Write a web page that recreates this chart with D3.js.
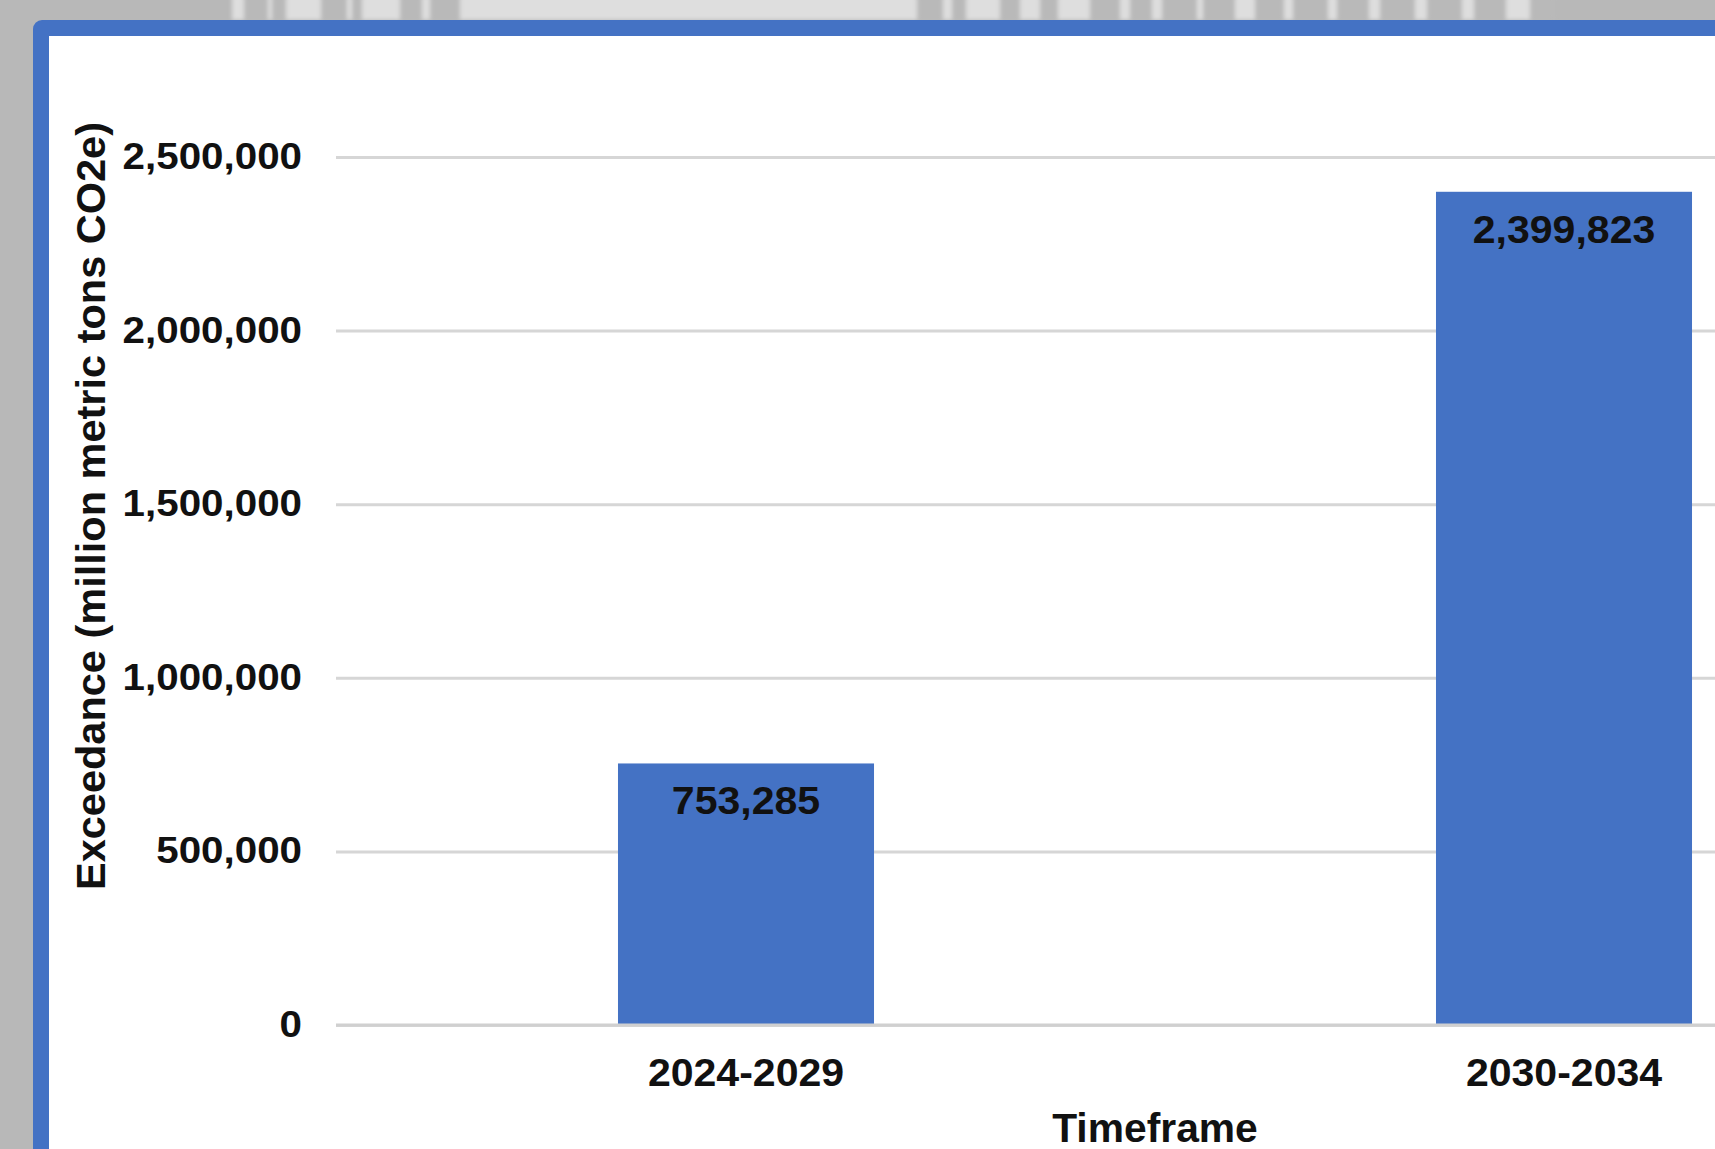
<!DOCTYPE html>
<html>
<head>
<meta charset="utf-8">
<script src="https://cdn.jsdelivr.net/npm/d3@7"></script>
<style>
  html, body { margin: 0; padding: 0; background: #b8b8b8; overflow: hidden; }
  text { font-family: "Liberation Sans", Arial, Helvetica, sans-serif; font-weight: bold; fill: #111; }
</style>
</head>
<body>
<div id="chart"></div>
<script>
// values
var categories = ["2024-2029", "2030-2034"];
var values = [753285, 2399823];
var yTicks = [0, 500000, 1000000, 1500000, 2000000, 2500000];
var yTitle = "Exceedance (million metric tons CO2e)";
var xTitle = "Timeframe";

// blurry strip above the frame (x, width) - just decoration
var stripBlocks = [[244, 24], [272, 14], [321, 26], [352, 10], [400, 22], [430, 30],
  [917, 26], [952, 14], [1000, 20], [1040, 18], [1090, 30], [1130, 22], [1162, 35],
  [1203, 32], [1255, 29], [1293, 35], [1337, 32], [1380, 35], [1427, 35], [1474, 32], [1530, 25]];

(function(){
  var W = 1715, H = 1149;
  var svg = d3.select("#chart").append("svg")
    .attr("width", W).attr("height", H);

  svg.append("rect").attr("width", W).attr("height", H).attr("fill", "#b8b8b8");

  // top strip
  var defs = svg.append("defs");
  defs.append("filter").attr("id", "blur")
    .append("feGaussianBlur").attr("stdDeviation", 2);
  var strip = svg.append("g").attr("filter", "url(#blur)");
  strip.append("rect").attr("x", 232).attr("y", -4).attr("width", 1323).attr("height", 24).attr("fill", "#dedede");
  strip.selectAll("rect.blk").data(stripBlocks).join("rect")
    .attr("class", "blk")
    .attr("x", function(d){ return d[0]; })
    .attr("y", -4)
    .attr("width", function(d){ return d[1]; })
    .attr("height", 24)
    .attr("fill", "#b9b9b9");

  // blue frame + white card
  svg.append("rect").attr("x", 33).attr("y", 20).attr("width", W).attr("height", H)
    .attr("rx", 9).attr("fill", "#4472c4");
  svg.append("rect").attr("x", 49).attr("y", 36).attr("width", W).attr("height", H)
    .attr("fill", "#ffffff");

  var plotLeft = 336, y0 = 1025, yTop = 157;

  var y = d3.scaleLinear().domain([0, 2500000]).range([y0, yTop]);
  var x = d3.scaleBand().domain(categories)
    .range([337, 1973])
    .paddingInner(0.687)
    .paddingOuter(0.3435);

  // stretch glyphs a little, the source picture is wider than the font
  function widen(sel, k) {
    sel.each(function(){
      var len = this.getComputedTextLength();
      d3.select(this).attr("textLength", len * k).attr("lengthAdjust", "spacingAndGlyphs");
    });
  }

  // y axis + gridlines
  var yAxis = svg.append("g")
    .attr("transform", "translate(" + plotLeft + ",0)")
    .call(d3.axisLeft(y).tickValues(yTicks).tickFormat(d3.format(",")).tickSize(-(W - plotLeft)).tickPadding(34));
  yAxis.select(".domain").remove();
  yAxis.selectAll(".tick line").attr("stroke", "#d6d6d6").attr("stroke-width", 3);
  yAxis.selectAll(".tick text")
    .style("font-size", "36px")
    .style("font-family", "'Liberation Sans', Arial, sans-serif")
    .style("font-weight", "bold")
    .attr("fill", "#111")
    .call(widen, 1.12);

  // bars
  svg.selectAll("rect.bar")
    .data(values)
    .join("rect")
    .attr("class", "bar")
    .attr("x", function(d, i){ return x(categories[i]); })
    .attr("y", function(d){ return y(d); })
    .attr("width", x.bandwidth())
    .attr("height", function(d){ return y(0) - y(d); })
    .attr("fill", "#4472c4");

  // baseline
  svg.append("line")
    .attr("x1", plotLeft).attr("x2", W)
    .attr("y1", y(0)).attr("y2", y(0))
    .attr("stroke", "#d0d0d0").attr("stroke-width", 3);

  // value labels inside bars
  svg.selectAll("text.val")
    .data(values)
    .join("text")
    .attr("class", "val")
    .attr("x", function(d, i){ return x(categories[i]) + x.bandwidth() / 2; })
    .attr("y", function(d){ return y(d) + 51; })
    .attr("text-anchor", "middle")
    .style("font-size", "38px")
    .text(function(d){ return d3.format(",")(d); })
    .call(widen, 1.08);

  // x axis
  var xAxis = svg.append("g")
    .attr("transform", "translate(0," + y0 + ")")
    .call(d3.axisBottom(x).tickSize(0).tickPadding(34));
  xAxis.select(".domain").remove();
  xAxis.selectAll(".tick text")
    .style("font-size", "38px")
    .style("font-family", "'Liberation Sans', Arial, sans-serif")
    .style("font-weight", "bold")
    .attr("fill", "#111")
    .call(widen, 1.08);

  // axis titles
  svg.append("text")
    .attr("x", 1155).attr("y", 1142)
    .attr("text-anchor", "middle")
    .style("font-size", "40px")
    .text(xTitle)
    .call(widen, 1.02);

  svg.append("text")
    .attr("transform", "translate(105,506) rotate(-90)")
    .attr("text-anchor", "middle")
    .style("font-size", "41.5px")
    .text(yTitle);
})();
</script>
</body>
</html>
